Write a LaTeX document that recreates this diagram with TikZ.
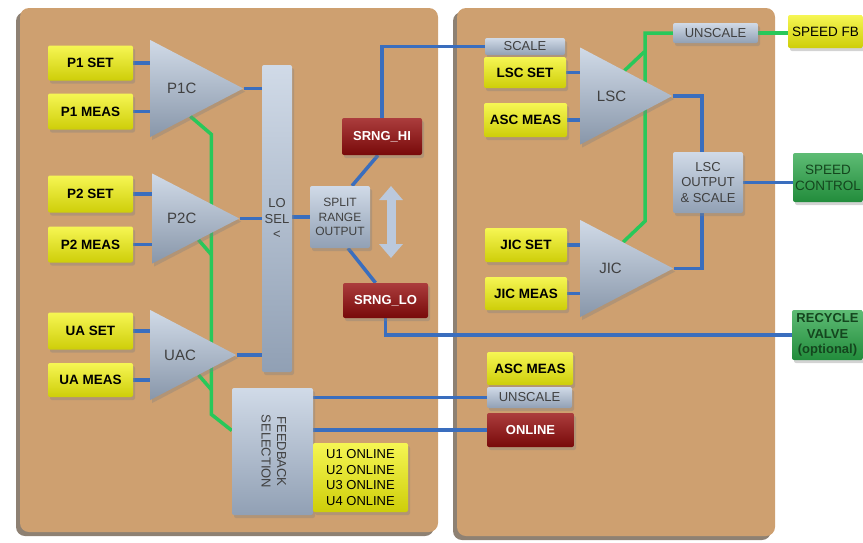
\documentclass[tikz,border=0pt]{standalone}
\usepackage{fontspec}
\setmainfont{Liberation Sans}
\usepackage{xcolor}
\usepackage{tikz}
\usetikzlibrary{arrows.meta, positioning, calc, shapes.geometric, shadows}

\definecolor{panelTan}{RGB}{206,160,112}
\definecolor{sigBlue}{RGB}{58,110,190}
\definecolor{fbGreen}{RGB}{40,200,90}
\definecolor{boxYel}{RGB}{242,242,10}
\definecolor{boxSteel}{RGB}{170,188,212}
\definecolor{boxRed}{RGB}{150,12,12}
\definecolor{boxGreen}{RGB}{40,165,70}
\definecolor{txtGreen}{RGB}{20,70,30}

\pgfdeclarelayer{bg}
\pgfsetlayers{bg,main}

\tikzset{
  panel/.style={fill=panelTan, rounded corners=9pt,
    drop shadow={shadow xshift=-4pt, shadow yshift=-4pt, opacity=0.6, fill=brown!35!black}},
  blk/.style={rounded corners=2pt, inner sep=0pt, align=center, font=\fontsize{13}{15.6}\selectfont,
    drop shadow={shadow xshift=2pt, shadow yshift=-3pt, opacity=0.35}},
  yel/.style={blk, top color=boxYel!70!white, bottom color=boxYel!85!black, font=\fontsize{13.5}{16}\selectfont\bfseries},
  stl/.style={blk, top color=boxSteel!55!white, bottom color=boxSteel!85!black, text=black!75},
  rdbox/.style={blk, top color=boxRed!80!white, bottom color=boxRed!80!black, text=white, font=\fontsize{13}{15.6}\selectfont\bfseries},
  gnbox/.style={blk, top color=boxGreen!75!white, bottom color=boxGreen!85!black, text=txtGreen},
  ctrl/.style={isosceles triangle, isosceles triangle stretches, inner sep=0pt, anchor=lower side,
    top color=boxSteel!55!white, bottom color=boxSteel!80!black, text=black!75, font=\fontsize{15}{18}\selectfont,
    drop shadow={shadow xshift=2pt, shadow yshift=-3pt, opacity=0.35}},
  sig/.style={line width=3.5pt, sigBlue},
  fb/.style={line width=3.5pt, fbGreen}
}

\begin{document}
\begin{tikzpicture}[x=1pt, y=-1pt]
  \useasboundingbox (0,0) rectangle (863,542);
  % Panels
  \begin{pgfonlayer}{bg}
    \path[panel] (20,8) rectangle (438,532);
    \path[panel] (457,8) rectangle (775,536);
  \end{pgfonlayer}

  % Left panel: loop controllers
  \node[yel, minimum width=85, minimum height=35] (p1set) at (90.5,63) {P1 SET};
  \node[yel, minimum width=85, minimum height=36] (p1meas) at (90.5,111.5) {P1 MEAS};
  \node[yel, minimum width=85, minimum height=37] (p2set) at (90.5,194) {P2 SET};
  \node[yel, minimum width=85, minimum height=36] (p2meas) at (90.5,244.5) {P2 MEAS};
  \node[yel, minimum width=85, minimum height=37] (uaset) at (90.5,331) {UA SET};
  \node[yel, minimum width=85, minimum height=34] (uameas) at (90.5,380) {UA MEAS};
  \node[ctrl, minimum width=97, minimum height=93] (p1c) at (150,88.5) {P1C};
  \node[ctrl, minimum width=90, minimum height=87] (p2c) at (152,218.5) {P2C};
  \node[ctrl, minimum width=90, minimum height=86] (uac) at (150,355) {UAC};
  \node[stl, minimum width=30, minimum height=307] (losel) at (277,218.5) {LO\\SEL\\<};
  \node[stl, minimum width=60, minimum height=62, font=\fontsize{12}{14.5}\selectfont] (split) at (340,217) {SPLIT\\RANGE\\OUTPUT};
  \node[rdbox, minimum width=80, minimum height=37] (srnghi) at (382,136.5) {SRNG\_HI};
  \node[rdbox, minimum width=85, minimum height=35] (srnglo) at (385.5,300.5) {SRNG\_LO};
  \node[stl, minimum width=81, minimum height=127] (fbsel) at (272.5,451.5)
    {\rotatebox{-90}{\begin{tabular}{@{}c@{}}FEEDBACK\\SELECTION\end{tabular}}};
  \node[yel, minimum width=95, minimum height=69, align=left, font=\fontsize{13}{15.6}\selectfont] (online4) at (360.5,477.5)
    {U1 ONLINE\\U2 ONLINE\\U3 ONLINE\\U4 ONLINE};
  \draw[line width=9pt, boxSteel!80!white, {Triangle[width=23pt,length=14pt]}-{Triangle[width=23pt,length=14pt]}]
    (391,186) -- (391,258);

  % Right panel: LSC / JIC
  \node[stl, minimum width=80, minimum height=17] (scale) at (525,46.5) {SCALE};
  \node[yel, minimum width=82, minimum height=31] (lscset) at (525,72.5) {LSC SET};
  \node[yel, minimum width=83, minimum height=34] (ascmeas) at (525.5,120) {ASC MEAS};
  \node[ctrl, minimum width=97, minimum height=92] (lsc) at (580,96) {LSC};
  \node[stl, minimum width=85, minimum height=20] (unscalet) at (715.5,33) {UNSCALE};
  \node[stl, minimum width=70, minimum height=61] (lscout) at (708,182.5) {LSC\\OUTPUT\\\& SCALE};
  \node[yel, minimum width=82, minimum height=34] (jicset) at (526,245) {JIC SET};
  \node[yel, minimum width=82, minimum height=33] (jicmeas) at (526,293.5) {JIC MEAS};
  \node[ctrl, minimum width=97, minimum height=93] (jic) at (580,268.5) {JIC};
  \node[yel, minimum width=86, minimum height=33] (ascmeas2) at (530,368.5) {ASC MEAS};
  \node[stl, minimum width=85, minimum height=21] (unscale2) at (529.5,397.5) {UNSCALE};
  \node[rdbox, minimum width=87, minimum height=34] (online) at (530.5,430) {ONLINE};

  % Outputs
  \node[yel, minimum width=75, minimum height=33, font=\fontsize{13.5}{16}\selectfont] (speedfb) at (825.5,31.5) {SPEED FB};
  \node[gnbox, minimum width=70, minimum height=49, font=\fontsize{13.5}{16}\selectfont] (speedctl) at (828,177.5) {SPEED\\CONTROL};
  \node[gnbox, minimum width=71, minimum height=50, font=\fontsize{13}{15.6}\selectfont\bfseries] (recycle) at (827.5,335)
    {RECYCLE\\VALVE\\(optional)};

  \begin{pgfonlayer}{bg}
    % Signal wiring
    \foreach \src/\ctl in {p1set/p1c, p1meas/p1c, p2set/p2c, p2meas/p2c, uaset/uac, uameas/uac,
                           lscset/lsc, ascmeas/lsc, jicset/jic, jicmeas/jic}
      \draw[sig] (\src.east) -- (\src.east -| \ctl.lower side);
    \foreach \ctl in {p1c, p2c, uac}
      \draw[sig] (\ctl.apex) -- (\ctl.apex -| losel.west);
    \draw[sig] (losel.east |- split.west) -- (split.west);
    \draw[sig] ([xshift=-4pt]srnghi.south) -- ([xshift=12pt]split.north);
    \draw[sig] ([xshift=8pt]split.south) -- ([xshift=-10pt]srnglo.north);
    \draw[sig] (srnghi.north) |- (scale.west);
    \draw[sig] (srnglo.south) |- (recycle.west);
    \draw[sig] (fbsel.east |- unscale2.west) -- (unscale2.west);
    \draw[sig] (fbsel.east |- online.west) -- (online.west);
    \draw[sig] (lsc.apex) -| ([xshift=-6pt]lscout.north);
    \draw[sig] ([xshift=-6pt]lscout.south) |- (jic.apex);
    \draw[sig] (lscout.east) -- (lscout.east -| speedctl.west);
    % Feedback tracking bus
    \draw[fb] ($(p1c.apex)!0.57!(p1c.right corner)$) -- ++(21,18) -- ++(0,280) -- ([yshift=21pt]fbsel.west);
    \draw[fb] ($(p2c.apex)!0.47!(p2c.right corner)$) -- ++(13,15);
    \draw[fb] ($(uac.apex)!0.44!(uac.right corner)$) -- ++(13,15);
    \draw[fb] ($(jic.apex)!0.54!(jic.left corner)$) -- ++(22,-21) |- (unscalet.west);
    \draw[fb] ($(lsc.apex)!0.52!(lsc.left corner)$) -- ++(20,-19);
    \draw[fb] (unscalet.east) -- (unscalet.east -| speedfb.west);
  \end{pgfonlayer}
\end{tikzpicture}
\end{document}
